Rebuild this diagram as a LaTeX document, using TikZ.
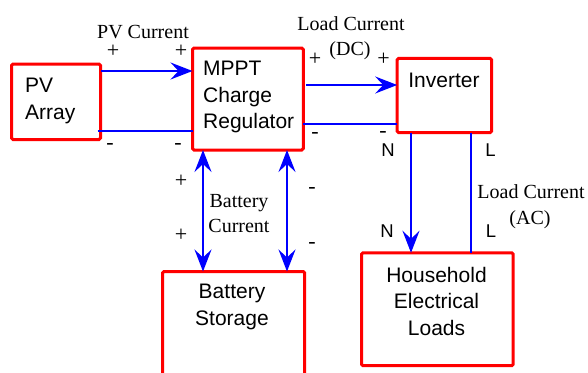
\documentclass[tikz,border=0pt]{standalone}
\usepackage{fontspec}
\setmainfont{Liberation Serif}
\newfontfamily\arialf{Liberation Sans}
\usetikzlibrary{arrows.meta}
\definecolor{wireblue}{RGB}{0,0,255}
\definecolor{boxred}{RGB}{255,0,0}
\begin{document}
\begin{tikzpicture}[x=1pt,y=-1pt,
  box/.style={draw=boxred, line width=3pt, rounded corners=1.5pt, outer sep=0pt, inner sep=0pt, anchor=north west},
  btxt/.style={font=\arialf\fontsize{21}{26.5}\selectfont, inner sep=0pt},
  lbl/.style={font=\fontsize{20}{23}\selectfont, inner sep=0pt},
  sgn/.style={font=\fontsize{22}{24}\selectfont, inner sep=0pt},
  nl/.style={font=\arialf\fontsize{18.5}{22}\selectfont, inner sep=0pt},
  wire/.style={draw=wireblue, line width=2pt},
  tip/.tip={Stealth[length=22pt,width=17pt,inset=8pt]}
]
\useasboundingbox (0,0) rectangle (588,372);
\clip (0,0) rectangle (588,372);

% boxes
\node[box, minimum width=89pt, minimum height=75.6pt] (pv) at (11.5,64) {};
\node[box, minimum width=110.8pt, minimum height=102pt] (mppt) at (192.5,48) {};
\node[box, minimum width=94.3pt, minimum height=74.4pt] (inv) at (397.2,58.3) {};
\node[box, minimum width=142.2pt, minimum height=130pt] (bat) at (162.5,271.5) {};
\node[box, minimum width=151.7pt, minimum height=112.9pt] (load) at (361.5,252.8) {};

% box texts
\node[btxt, align=left, anchor=north west] (pvt) at (25,78) {PV\\Array};
\node[btxt, align=left, anchor=north west] (mpptt) at (203,61) {MPPT\\Charge\\Regulator};
\node[btxt, anchor=base] (invt) at (444,87) {Inverter};
\node[btxt, align=center, anchor=north] (batt) at (232,284) {Battery\\Storage};
\node[btxt, align=center, anchor=north] (loadt) at (436.5,267) {Household\\Electrical\\Loads};

% connectors
\draw[wire, -tip] (pv.east |- 0,71) -- (mppt.west |- 0,71);
\draw[wire] ([xshift=-3pt]pv.east |- 0,131) -- (mppt.west |- 0,131);
\draw[wire, -tip, shorten <=3pt] (mppt.east |- 0,85) -- (inv.west |- 0,85);
\draw[wire] (mppt.east |- 0,124) -- (inv.west |- 0,124);
\draw[wire, tip-tip] (203,0 |- mppt.south) -- (203,0 |- bat.north);
\draw[wire, tip-tip] (287,0 |- mppt.south) -- (287,0 |- bat.north);
\draw[wire, -tip] (411,0 |- inv.south) -- (411,0 |- load.north);
\draw[wire] (471,0 |- inv.south) -- (471,0 |- load.north);

% labels
\node[lbl, anchor=base] (pvc) at (143,38) {PV Current};
\node[lbl, anchor=base] (ldc1) at (351,30) {Load Current};
\node[lbl, anchor=base] (ldc2) at (350,55.5) {(DC)};
\node[lbl, anchor=base] (bc1) at (239,207) {Battery};
\node[lbl, anchor=base] (bc2) at (239,232) {Current};
\node[lbl, anchor=base] (lac1) at (531,198) {Load Current};
\node[lbl, anchor=base] (lac2) at (530,224) {(AC)};

% signs
\node[sgn] (p1) at (113,51) {+};
\node[sgn] (p2) at (181,51) {+};
\node[sgn] (m1) at (110,146) {-};
\node[sgn] (m2) at (178,146) {-};
\node[sgn] (p3) at (315,59.5) {+};
\node[sgn] (p4) at (383.5,59.5) {+};
\node[sgn] (m3) at (315,135) {-};
\node[sgn] (m4) at (383,134.5) {-};
\node[sgn] (p5) at (181,181) {+};
\node[sgn] (p6) at (181,235) {+};
\node[sgn] (m5) at (312,190) {-};
\node[sgn] (m6) at (312,245) {-};

% N / L
\node[nl] (n1) at (388,150.5) {N};
\node[nl] (l1) at (490.5,150.5) {L};
\node[nl] (n2) at (387,231) {N};
\node[nl] (l2) at (491,231) {L};
\end{tikzpicture}
\end{document}
